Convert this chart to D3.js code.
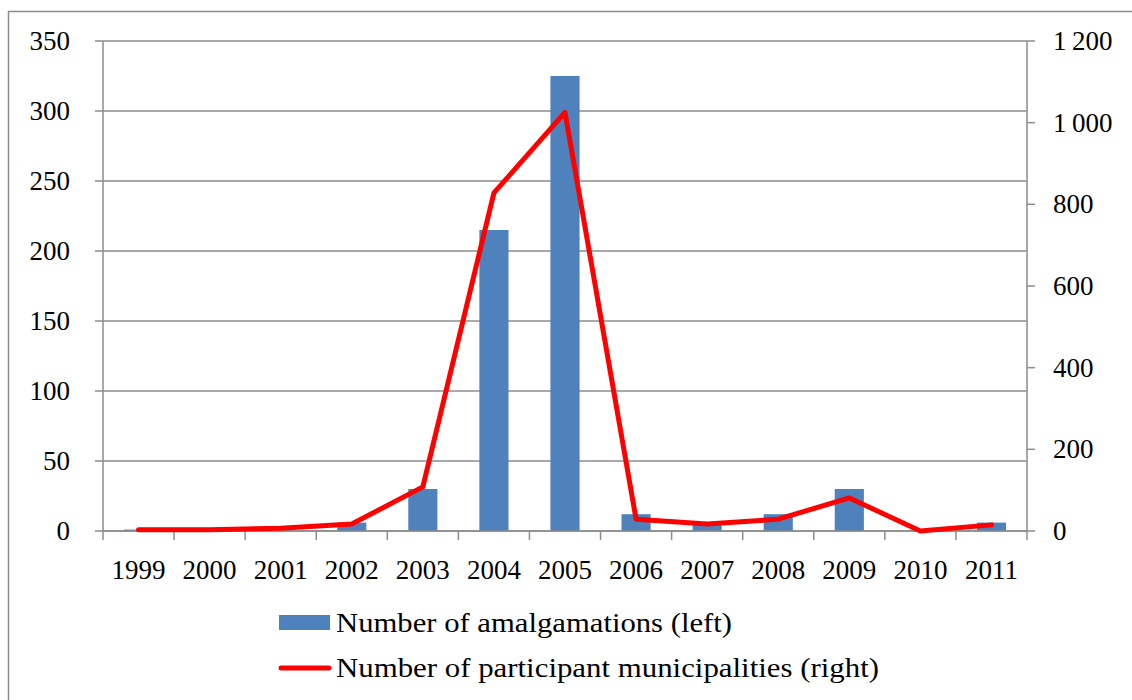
<!DOCTYPE html>
<html><head><meta charset="utf-8">
<script src="https://cdn.jsdelivr.net/npm/d3@7"></script>
<style>body{margin:0;background:#fff}svg{display:block}</style>
</head><body>
<svg id="c" width="1132" height="700"></svg>
<script>
const years = ["1999","2000","2001","2002","2003","2004","2005","2006","2007","2008","2009","2010","2011"];
const amalgamations = [1, 0, 0, 6, 30, 215, 325, 12, 5, 12, 30, 0, 6];
const participants = [3, 3, 7, 17, 108, 828, 1025, 29, 17, 29, 81, 0, 15];
const leftTicks = [0, 50, 100, 150, 200, 250, 300, 350];
const rightTicks = [0, 200, 400, 600, 800, 1000, 1200];
const legendLabels = ["Number of amalgamations (left)", "Number of participant municipalities (right)"];

const svg = d3.select("#c");
const font = "'Liberation Serif', 'Times New Roman', serif";
const L = 103, R = 1027, T = 41, B = 531;
const grid = "#8c8c8c";

svg.append("rect").attr("x", 8.5).attr("y", 11.5).attr("width", 1130).attr("height", 700)
  .attr("fill", "none").attr("stroke", grid).attr("stroke-width", 1.5);

const x = d3.scaleBand().domain(years).range([L, R]).paddingInner(0.59).paddingOuter(0.295);
const xc = d3.scaleBand().domain(years).range([L, R]);
const yL = d3.scaleLinear().domain([0, 350]).range([B, T]);
const yR = d3.scaleLinear().domain([0, 1200]).range([B, T]);

// gridlines
svg.append("g").selectAll("line").data(leftTicks).join("line")
  .attr("x1", L - 8).attr("x2", R).attr("y1", d => yL(d)).attr("y2", d => yL(d))
  .attr("stroke", grid).attr("stroke-width", 1.5);

// left axis line
svg.append("line").attr("x1", L).attr("x2", L).attr("y1", T).attr("y2", B)
  .attr("stroke", grid).attr("stroke-width", 1.5);
svg.append("g").selectAll("text").data(leftTicks).join("text")
  .attr("x", 70).attr("y", d => yL(d) + 9).attr("text-anchor", "end")
  .attr("font-family", font).attr("font-size", 27).attr("fill", "#000").text(d => d);

// right axis
svg.append("line").attr("x1", R).attr("x2", R).attr("y1", T).attr("y2", B)
  .attr("stroke", grid).attr("stroke-width", 1.5);
svg.append("g").selectAll("line").data(rightTicks).join("line")
  .attr("x1", R).attr("x2", R + 8).attr("y1", d => yR(d)).attr("y2", d => yR(d))
  .attr("stroke", grid).attr("stroke-width", 1.5);
const fmt = d => d >= 1000 ? Math.floor(d / 1000) + "\u2009" + String(d % 1000).padStart(3, "0") : String(d);
svg.append("g").selectAll("text").data(rightTicks).join("text")
  .attr("x", 1053).attr("y", d => yR(d) + 9).attr("text-anchor", "start")
  .attr("font-family", font).attr("font-size", 27).attr("fill", "#000").text(d => fmt(d));

// x axis ticks
const bounds = years.map(y => xc(y)).concat([R]);
svg.append("g").selectAll("line").data(bounds).join("line")
  .attr("x1", d => d).attr("x2", d => d).attr("y1", B).attr("y2", B + 9)
  .attr("stroke", grid).attr("stroke-width", 1.5);
svg.append("g").selectAll("text").data(years).join("text")
  .attr("x", d => xc(d) + xc.bandwidth() / 2).attr("y", 579).attr("text-anchor", "middle")
  .attr("font-family", font).attr("font-size", 27).attr("fill", "#000").text(d => d);

// bars
svg.append("g").selectAll("rect").data(years).join("rect")
  .attr("x", d => x(d)).attr("width", x.bandwidth())
  .attr("y", (d, i) => yL(amalgamations[i]))
  .attr("height", (d, i) => B - yL(amalgamations[i]))
  .attr("fill", "#4f81bd");

// x baseline (over bars)
svg.append("line").attr("x1", L).attr("x2", R).attr("y1", B).attr("y2", B)
  .attr("stroke", grid).attr("stroke-width", 1.5);

// line
const line = d3.line().x((d, i) => xc(years[i]) + xc.bandwidth() / 2).y(d => yR(d));
svg.append("path").datum(participants).attr("d", line)
  .attr("fill", "none").attr("stroke", "#ff0000").attr("stroke-width", 5)
  .attr("stroke-linejoin", "round").attr("stroke-linecap", "round");

// legend
svg.append("rect").attr("x", 279).attr("y", 615).attr("width", 51).attr("height", 15).attr("fill", "#4f81bd");
svg.append("line").attr("x1", 281).attr("x2", 329).attr("y1", 668).attr("y2", 668)
  .attr("stroke", "#ff0000").attr("stroke-width", 5).attr("stroke-linecap", "round");
const legendWidths = [396, 543];
svg.append("g").selectAll("text").data(legendLabels).join("text")
  .attr("x", 336).attr("y", (d, i) => 632 + i * 45)
  .attr("textLength", (d, i) => legendWidths[i]).attr("lengthAdjust", "spacingAndGlyphs")
  .attr("font-family", font).attr("font-size", 27).attr("fill", "#000").text(d => d);
</script>
</body></html>
